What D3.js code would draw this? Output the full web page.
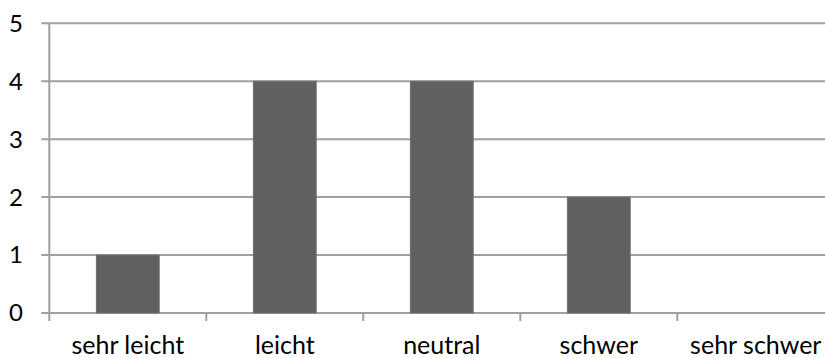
<!DOCTYPE html>
<html>
<head>
<meta charset="utf-8">
<script src="https://cdn.jsdelivr.net/npm/d3@7"></script>
<style>
  html, body { margin: 0; padding: 0; background: #fff; }
  svg { display: block; }
  text { font-family: Lato, "Open Sans", sans-serif; fill: #000; }
</style>
</head>
<body>
<svg id="chart" width="825" height="358"></svg>
<script>
// Bewertung der Schwierigkeit: Anzahl der Antworten je Kategorie
const categories = ["sehr leicht", "leicht", "neutral", "schwer", "sehr schwer"];
const counts = [1, 4, 4, 2, 0];
const yTicks = [0, 1, 2, 3, 4, 5];

const svg = d3.select("#chart");
const plot = { left: 49.3, right: 834.3, top: 23.3, bottom: 313 };

const x = d3.scaleBand()
  .domain(categories)
  .range([plot.left, plot.right])
  .paddingInner(0.6)
  .paddingOuter(0.3);

const y = d3.scaleLinear().domain([0, 5]).range([plot.bottom, plot.top]);

const lineColor = "#a0a0a0";
const tickLen = 8;

// horizontal gridlines, each with a short tick left of the axis
svg.append("g").selectAll("line")
  .data(yTicks)
  .join("line")
  .attr("x1", plot.left - tickLen)
  .attr("x2", plot.right)
  .attr("y1", d => y(d))
  .attr("y2", d => y(d))
  .attr("stroke", lineColor)
  .attr("stroke-width", 2);

// y axis line
svg.append("line")
  .attr("x1", plot.left).attr("x2", plot.left)
  .attr("y1", plot.top).attr("y2", plot.bottom + tickLen)
  .attr("stroke", lineColor)
  .attr("stroke-width", 2);

// category boundary ticks below the x axis
const step = x.step();
const boundaries = d3.range(1, categories.length).map(i => plot.left + i * step);
svg.append("g").selectAll("line")
  .data(boundaries)
  .join("line")
  .attr("x1", d => d).attr("x2", d => d)
  .attr("y1", plot.bottom).attr("y2", plot.bottom + tickLen)
  .attr("stroke", lineColor)
  .attr("stroke-width", 2);

// bars
svg.append("g").selectAll("rect")
  .data(categories.map((c, i) => ({ c, v: counts[i] })).filter(d => d.v > 0))
  .join("rect")
  .attr("x", d => x(d.c))
  .attr("y", d => y(d.v))
  .attr("width", x.bandwidth())
  .attr("height", d => y(0) - y(d.v))
  .attr("fill", "#616161")
  .attr("stroke", "#6e6e6e")
  .attr("stroke-width", 1);

// y tick labels
svg.append("g").selectAll("text")
  .data(yTicks)
  .join("text")
  .attr("x", 23)
  .attr("y", d => y(d))
  .attr("dy", "0.35em")
  .attr("text-anchor", "end")
  .attr("font-size", 24)
  .text(d => d);

// category labels
svg.append("g").selectAll("text")
  .data(categories)
  .join("text")
  .attr("x", d => x(d) + x.bandwidth() / 2)
  .attr("y", 354)
  .attr("text-anchor", "middle")
  .attr("font-size", 25)
  .text(d => d);
</script>
</body>
</html>
